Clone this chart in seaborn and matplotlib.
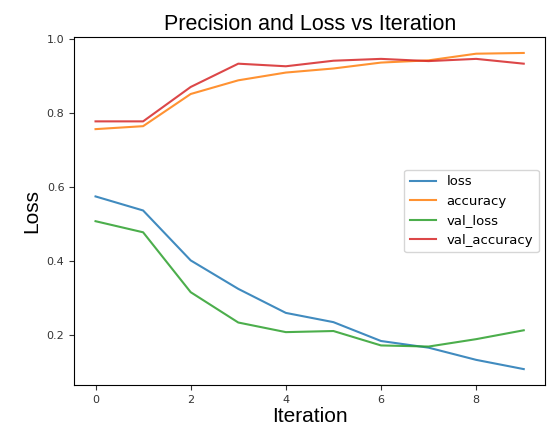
import matplotlib
matplotlib.use("Agg")
import matplotlib.pyplot as plt
import seaborn as sns
import pandas as pd

iterations = list(range(10))
loss = [0.575, 0.537, 0.402, 0.325, 0.260, 0.235, 0.184, 0.166, 0.133, 0.108]
accuracy = [0.757, 0.765, 0.852, 0.889, 0.910, 0.921, 0.937, 0.943, 0.961, 0.963]
val_loss = [0.508, 0.478, 0.316, 0.234, 0.208, 0.211, 0.172, 0.169, 0.189, 0.213]
val_accuracy = [0.778, 0.778, 0.871, 0.934, 0.927, 0.942, 0.947, 0.941, 0.947, 0.934]

df = pd.DataFrame({"loss": loss, "accuracy": accuracy,
                   "val_loss": val_loss, "val_accuracy": val_accuracy},
                  index=iterations)
long = df.reset_index().melt(id_vars="index", var_name="series", value_name="value")

fig = plt.figure(figsize=(5.49, 4.32), dpi=100)
ax = fig.add_axes([0.135, 0.109, 0.858, 0.805])
palette = ["#1f77b4", "#ff7f0e", "#2ca02c", "#d62728"]
sns.lineplot(data=long, x="index", y="value", hue="series", palette=palette,
             ax=ax, linewidth=1.5, alpha=0.85)
ax.set_title("Precision and Loss vs Iteration", fontsize=15.5, family="Liberation Sans", pad=5)
ax.set_xlabel("Iteration", fontsize=15, family="Liberation Sans", labelpad=2)
ax.set_ylabel("Loss", fontsize=15, family="Liberation Sans")
ax.tick_params(labelsize=8, colors="#333333")
ax.set_xticks([0, 2, 4, 6, 8])
ax.set_yticks([0.2, 0.4, 0.6, 0.8, 1.0])
leg = ax.legend(loc="center right", fontsize=9.5)
leg.set_title(None)
fig.savefig("out.png", dpi=100)
